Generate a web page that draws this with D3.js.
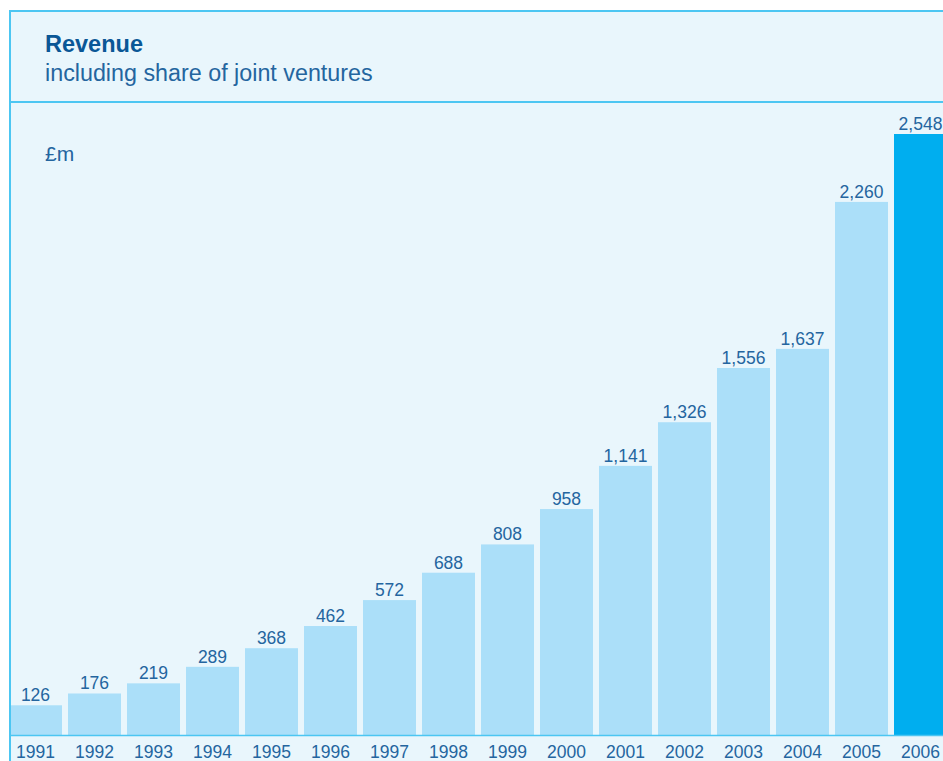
<!DOCTYPE html>
<html>
<head>
<meta charset="utf-8">
<script src="https://cdn.jsdelivr.net/npm/d3@7"></script>
<style>
  html, body { margin: 0; padding: 0; background: #ffffff; }
  svg { display: block; }
</style>
</head>
<body>
<svg id="chart" width="943" height="761"></svg>
<script>
// Revenue by year (£m), including share of joint ventures
const years = ["1991","1992","1993","1994","1995","1996","1997","1998","1999","2000","2001","2002","2003","2004","2005","2006"];
const revenue = [126, 176, 219, 289, 368, 462, 572, 688, 808, 958, 1141, 1326, 1556, 1637, 2260, 2548];
const highlightYear = "2006";

const W = 943, H = 761;
const panelLeft = 10, panelTop = 11, headerBottom = 102;
const baseY = 735;
const topY = 134;
const step = 59, gap = 6;

const svg = d3.select("#chart");
const font = "'Liberation Sans', Arial, Helvetica, sans-serif";
const textColor = "#24659f";

// panel background
svg.append("rect")
  .attr("x", panelLeft).attr("y", panelTop)
  .attr("width", W - panelLeft).attr("height", H - panelTop)
  .attr("fill", "#e9f6fc");

// scales
const x0 = panelLeft - 1;
const x = d3.scaleBand()
  .domain(years)
  .range([x0, x0 + step * years.length - gap])
  .paddingInner(gap / step)
  .paddingOuter(0);

const y = d3.scaleLinear()
  .domain([0, d3.max(revenue)])
  .range([baseY, topY]);

const data = years.map((yr, i) => ({ year: yr, value: revenue[i] }));

// bars
svg.append("g").selectAll("rect")
  .data(data)
  .join("rect")
  .attr("x", d => x(d.year))
  .attr("y", d => y(d.value))
  .attr("width", x.bandwidth())
  .attr("height", d => baseY - y(d.value))
  .attr("fill", d => d.year === highlightYear ? "#00aeef" : "#abdff9");

// value labels
const fmt = d3.format(",");
svg.append("g").selectAll("text")
  .data(data)
  .join("text")
  .attr("x", d => x(d.year) + x.bandwidth() / 2)
  .attr("y", d => y(d.value) - 4)
  .attr("text-anchor", "middle")
  .attr("font-family", font)
  .attr("font-size", 17.5)
  .attr("fill", textColor)
  .text(d => fmt(d.value));

// baseline axis with year labels
const xAxis = d3.axisBottom(x).tickSize(0).tickPadding(0);
const axisG = svg.append("g")
  .attr("transform", `translate(0,${baseY})`)
  .call(xAxis);
axisG.select(".domain").remove();
axisG.selectAll("text")
  .attr("font-family", font)
  .attr("font-size", 17.5)
  .attr("fill", textColor)
  .attr("y", 22.5)
  .attr("dy", null);

svg.append("line")
  .attr("x1", panelLeft).attr("x2", W)
  .attr("y1", baseY + 0.5).attr("y2", baseY + 0.5)
  .attr("stroke", "#4cc6f2").attr("stroke-width", 1.5);

// panel borders
svg.append("line")
  .attr("x1", panelLeft).attr("x2", W)
  .attr("y1", panelTop).attr("y2", panelTop)
  .attr("stroke", "#4cc6f2").attr("stroke-width", 2);
svg.append("line")
  .attr("x1", panelLeft).attr("x2", W)
  .attr("y1", headerBottom).attr("y2", headerBottom)
  .attr("stroke", "#4cc6f2").attr("stroke-width", 2);
svg.append("line")
  .attr("x1", panelLeft).attr("x2", panelLeft)
  .attr("y1", panelTop - 1).attr("y2", H)
  .attr("stroke", "#4cc6f2").attr("stroke-width", 2);

// title block
svg.append("text")
  .attr("x", 45).attr("y", 52)
  .attr("font-family", font).attr("font-size", 23.5).attr("font-weight", "bold")
  .attr("fill", "#0a5796")
  .text("Revenue");
svg.append("text")
  .attr("x", 45).attr("y", 81)
  .attr("font-family", font).attr("font-size", 23.3)
  .attr("fill", textColor)
  .text("including share of joint ventures");
svg.append("text")
  .attr("x", 45).attr("y", 161)
  .attr("font-family", font).attr("font-size", 21)
  .attr("fill", textColor)
  .text("£m");
</script>
</body>
</html>
